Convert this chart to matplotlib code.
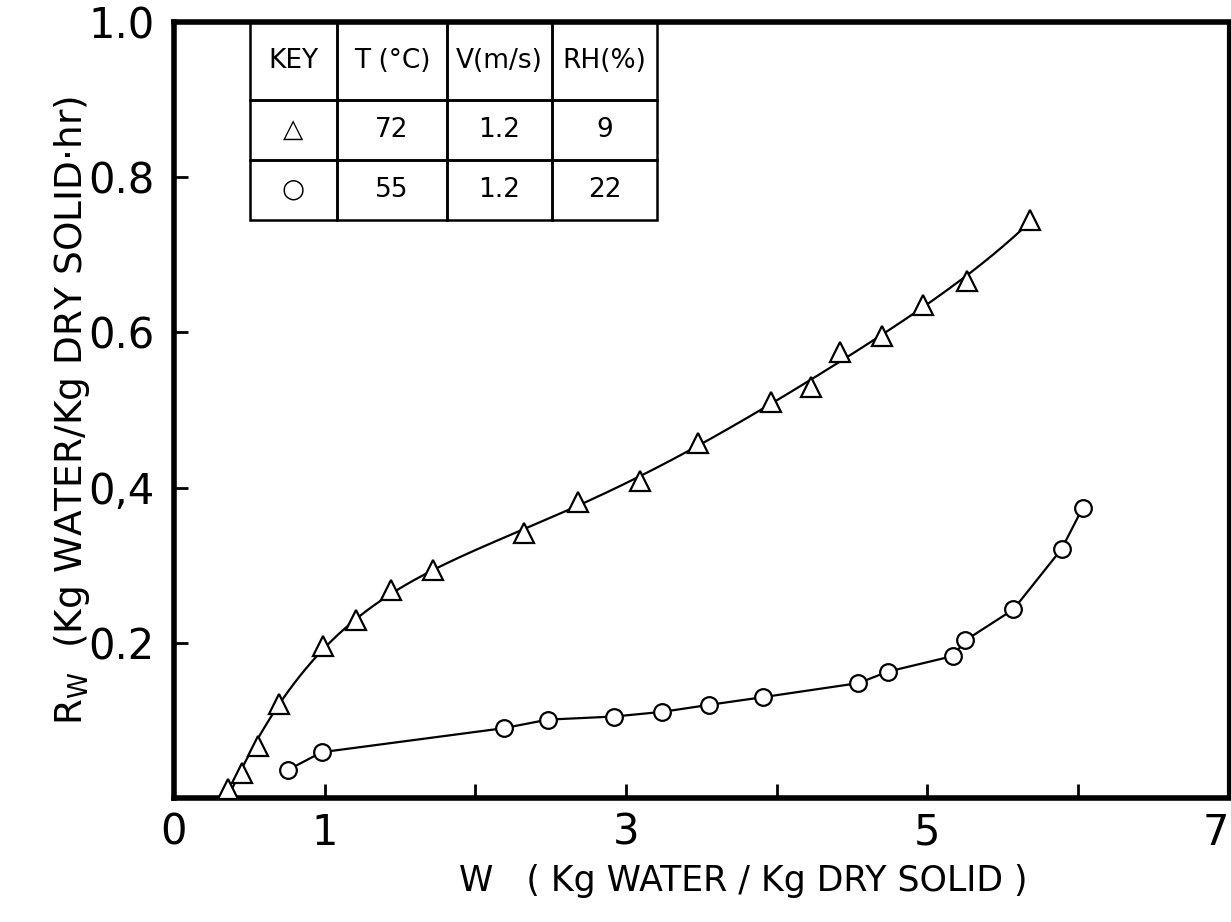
import numpy as np
import matplotlib
matplotlib.use("Agg")
import matplotlib.pyplot as plt

plt.rcParams['font.family'] = ['DejaVu Sans']

# triangle series: T=72 C, V=1.2 m/s, RH=9 %
tri_w = [0.36, 0.45, 0.56, 0.70, 0.99, 1.21, 1.44, 1.72, 2.32, 2.68, 3.09,
         3.48, 3.96, 4.23, 4.42, 4.70, 4.97, 5.26, 5.68]
tri_r = [0.012, 0.032, 0.067, 0.121, 0.196, 0.230, 0.268, 0.294, 0.342, 0.381, 0.408,
         0.457, 0.510, 0.530, 0.575, 0.595, 0.636, 0.666, 0.745]

# circle series: T=55 C, V=1.2 m/s, RH=22 %
cir_w = [0.755, 0.98, 2.19, 2.48, 2.92, 3.24, 3.55, 3.91, 4.54, 4.74, 5.17,
         5.25, 5.57, 5.89, 6.03]
cir_r = [0.036, 0.059, 0.090, 0.101, 0.105, 0.111, 0.120, 0.130, 0.148, 0.163, 0.183,
         0.203, 0.243, 0.321, 0.374]

key_cols = ['KEY', 'T (°C)', 'V(m/s)', 'RH(%)']
key_rows = [['△', '72', '1.2', '9'],
            ['○', '55', '1.2', '22']]

fig = plt.figure(figsize=(12.31, 9.22), dpi=100)
ax = fig.add_axes([0.1413, 0.1345, 0.857, 0.8415])

# smooth curve through the triangles
p_tri = np.polyfit(tri_w, tri_r, 5)
xs = np.linspace(0.33, tri_w[-1], 300)
ax.plot(xs, np.polyval(p_tri, xs), color='black', lw=1.6, zorder=2)
# circles: line joining the points
ax.plot(cir_w, cir_r, color='black', lw=1.6, zorder=2)

ax.plot(tri_w, tri_r, linestyle='none', marker='^', ms=15, mfc='white',
        mec='black', mew=1.6, zorder=3)
ax.plot(cir_w, cir_r, linestyle='none', marker='o', ms=12, mfc='white',
        mec='black', mew=1.6, zorder=3)

ax.set_xlim(0, 7)
ax.set_ylim(0, 1.0)
ax.set_xticks(range(8))
ax.set_xticklabels(['0', '1', '', '3', '', '5', '', '7'])
ax.get_xticklabels()[-1].set_horizontalalignment('right')
ax.set_yticks([0, 0.2, 0.4, 0.6, 0.8, 1.0])
ax.set_yticklabels(['', '0.2', '0,4', '0.6', '0.8', '1.0'])
ax.tick_params(direction='in', length=10, width=2, labelsize=30, pad=14)
ax.tick_params(axis='x', pad=10)
for side in ['left', 'bottom', 'top']:
    ax.spines[side].set_linewidth(4)
ax.spines['right'].set_linewidth(3)

ax.set_xlabel('W   ( Kg WATER / Kg DRY SOLID )', fontsize=25, labelpad=8)
ax.xaxis.set_label_coords(0.54, -0.085)
ax.set_ylabel('R$_\\mathregular{W}$  (Kg WATER/Kg DRY SOLID·hr)', fontsize=27, labelpad=10)
ax.yaxis.set_label_coords(-0.078, 0.5)

tab = ax.table(cellText=key_rows, colLabels=key_cols, cellLoc='center',
               bbox=[0.072, 0.745, 0.386, 0.255])
widths = [0.214, 0.27, 0.258, 0.258]
for (r, c), cell in tab.get_celld().items():
    cell.set_linewidth(1.8)
    cell.set_width(widths[c])
    cell.set_height(0.078 if r == 0 else 0.06)
    cell.set_facecolor('none')
tab.auto_set_font_size(False)
tab.set_fontsize(19)

fig.savefig('out.png', dpi=100)
